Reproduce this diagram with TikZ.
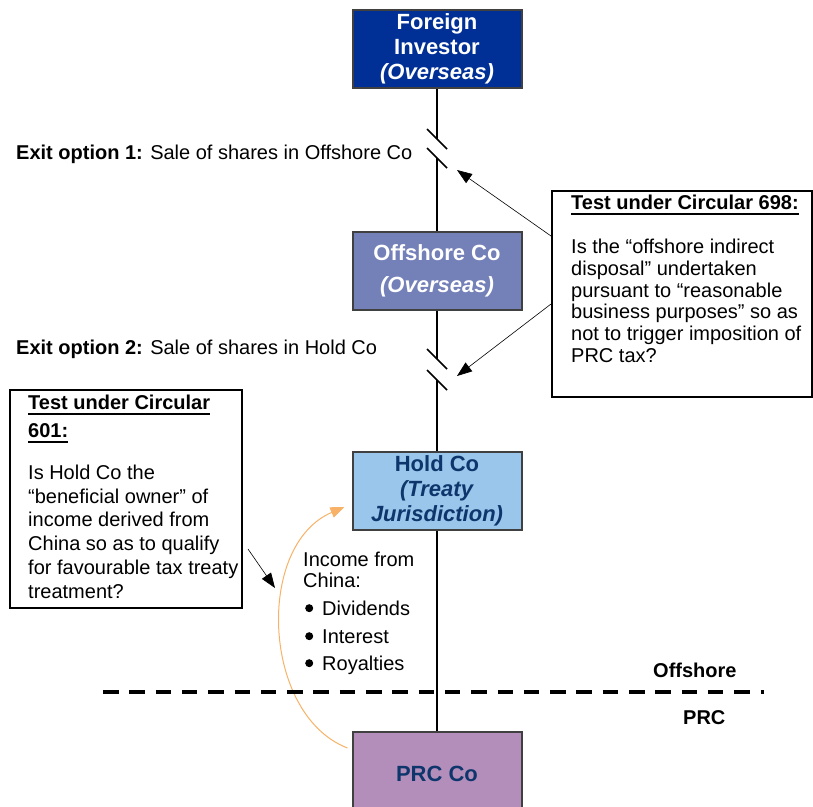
\documentclass[tikz,border=0pt]{standalone}
\usepackage{fontspec}
\setmainfont{Liberation Sans}
\usetikzlibrary{arrows.meta}
\definecolor{fiblue}{RGB}{0,48,150}
\definecolor{ocblue}{RGB}{116,128,184}
\definecolor{hcblue}{RGB}{153,198,234}
\definecolor{prcpurple}{RGB}{180,142,187}
\definecolor{navytxt}{RGB}{14,54,108}
\definecolor{boxedge}{RGB}{64,64,64}
\definecolor{orangeln}{RGB}{247,178,104}
\newcommand\myul[1]{\setbox0\hbox{#1}\rlap{\rule[-5.5pt]{\wd0}{2pt}}\box0}
\newcommand\mybul{\tikz[baseline=0pt]\fill[black] (4pt,7pt) circle (4pt);}
\begin{document}
\begin{tikzpicture}[x=1pt,y=-1pt,
  txt/.style={inner sep=0pt, font=\fontsize{20pt}{22pt}\selectfont},
  cobox/.style={draw=boxedge, line width=2pt, minimum width=169pt, minimum height=78pt, inner sep=0pt, align=center},
  tbox/.style={draw=black, line width=2pt, inner sep=0pt},
  conn/.style={line width=1.5pt, black},
  arr/.style={line width=0.6pt, black, -{Triangle[length=15pt,width=11pt]}},
  orarr/.style={orangeln, line width=1pt, -{Triangle[length=14pt,width=11pt]}}
]
\useasboundingbox (0,0) rectangle (813,806);

% company boxes
\node[cobox, fill=fiblue, text=white, font=\fontsize{22pt}{25pt}\selectfont\bfseries] (fi) at (437,49) {Foreign\\Investor\\\textit{(Overseas)}};
\node[cobox, fill=ocblue, text=white, font=\fontsize{22pt}{32pt}\selectfont\bfseries] (oc) at (437,271) {Offshore Co\\\textit{(Overseas)}};
\node[cobox, fill=hcblue, text=navytxt, font=\fontsize{22pt}{25pt}\selectfont\bfseries] (hc) at (437,491) {Hold Co\\\textit{(Treaty}\\\textit{Jurisdiction)}};
\node[cobox, fill=prcpurple, text=navytxt, minimum height=84pt, font=\fontsize{22pt}{24pt}\selectfont\bfseries] (prc) at (437,774) {PRC Co};

% break points
\coordinate (b1a) at (437,139);
\coordinate (b1b) at (437,158);
\coordinate (b2a) at (437,359);
\coordinate (b2b) at (437,380);

% vertical connectors
\draw[conn] (fi.south) -- (b1a);
\draw[conn] (b1b) -- (oc.north);
\draw[conn] (oc.south) -- (b2a);
\draw[conn] (b2b) -- (hc.north);
\draw[conn] (hc.south) -- (prc.north);

% break slashes
\draw[conn] ([shift={(-10,-10)}]b1a) -- ([shift={(10,10)}]b1a);
\draw[conn] ([shift={(-10,-10)}]b1b) -- ([shift={(10,10)}]b1b);
\draw[conn] ([shift={(-10,-10)}]b2a) -- ([shift={(10,10)}]b2a);
\draw[conn] ([shift={(-10,-10)}]b2b) -- ([shift={(10,10)}]b2b);

% exit option labels
\node[txt, anchor=base west] (ex1) at (16,159) {\textbf{Exit option 1:} Sale of shares in Offshore Co};
\node[txt, anchor=base west] (ex2) at (16,354) {\textbf{Exit option 2:} Sale of shares in Hold Co};

% Test 698 box
\node[tbox, anchor=north west, minimum width=260pt, minimum height=206pt] (t698) at (551,190) {};
\node[txt, anchor=north west, align=left, font=\fontsize{20pt}{21.8pt}\selectfont] (t698txt) at (571,195) {\myul{\textbf{Test under Circular 698:}}\\[22pt]Is the “offshore indirect\\disposal” undertaken\\pursuant to “reasonable\\business purposes” so as\\not to trigger imposition of\\PRC tax?};

% Test 601 box
\node[tbox, anchor=north west, minimum width=232pt, minimum height=218pt] (t601) at (9,389) {};
\node[txt, anchor=north west, align=left, font=\fontsize{20pt}{23.8pt}\selectfont] (t601txt) at (28,395) {\myul{\textbf{Test under Circular}}\\[4pt]\myul{\textbf{601:}}\\[18pt]Is Hold Co the\\“beneficial owner” of\\income derived from\\China so as to qualify\\for favourable tax treaty\\treatment?};

% arrows from test boxes
\coordinate (tip1) at (457,170);
\coordinate (tip2) at (457,376);
\coordinate (tip3) at (275,588);
\draw[arr] ([yshift=-46pt]t698.north west) -- (tip1);
\draw[arr] ([yshift=-114pt]t698.north west) -- (tip2);
\draw[arr] ([xshift=5pt,yshift=-50pt]t601.east) -- (tip3);

% income text
\node[txt, anchor=north west, align=left, font=\fontsize{20pt}{21pt}\selectfont] (inc) at (303,551.5) {Income from\\China:\\[7pt]\hspace*{2pt}\mybul\hspace*{9pt}Dividends\\[7pt]\hspace*{2pt}\mybul\hspace*{9pt}Interest\\[6pt]\hspace*{2pt}\mybul\hspace*{9pt}Royalties};

% orange curved arrow
\coordinate (o1) at ([xshift=-4pt,yshift=26pt]prc.west);
\coordinate (o2) at ([xshift=-7pt,yshift=-16pt]hc.west);
\draw[orarr] (o1) .. controls (262,715) and (255,545) .. (o2);

% offshore / PRC boundary
\coordinate (dl) at (103,692);
\coordinate (dr) at (764,692);
\draw[line width=4pt, dash pattern=on 15.5pt off 10.8pt] (dl) -- (dr);
\node[txt, anchor=base west, font=\fontsize{20pt}{22pt}\selectfont\bfseries] (offl) at (653,677) {Offshore};
\node[txt, anchor=base west, font=\fontsize{20pt}{22pt}\selectfont\bfseries] (prcl) at (683,724) {PRC};
\end{tikzpicture}
\end{document}
